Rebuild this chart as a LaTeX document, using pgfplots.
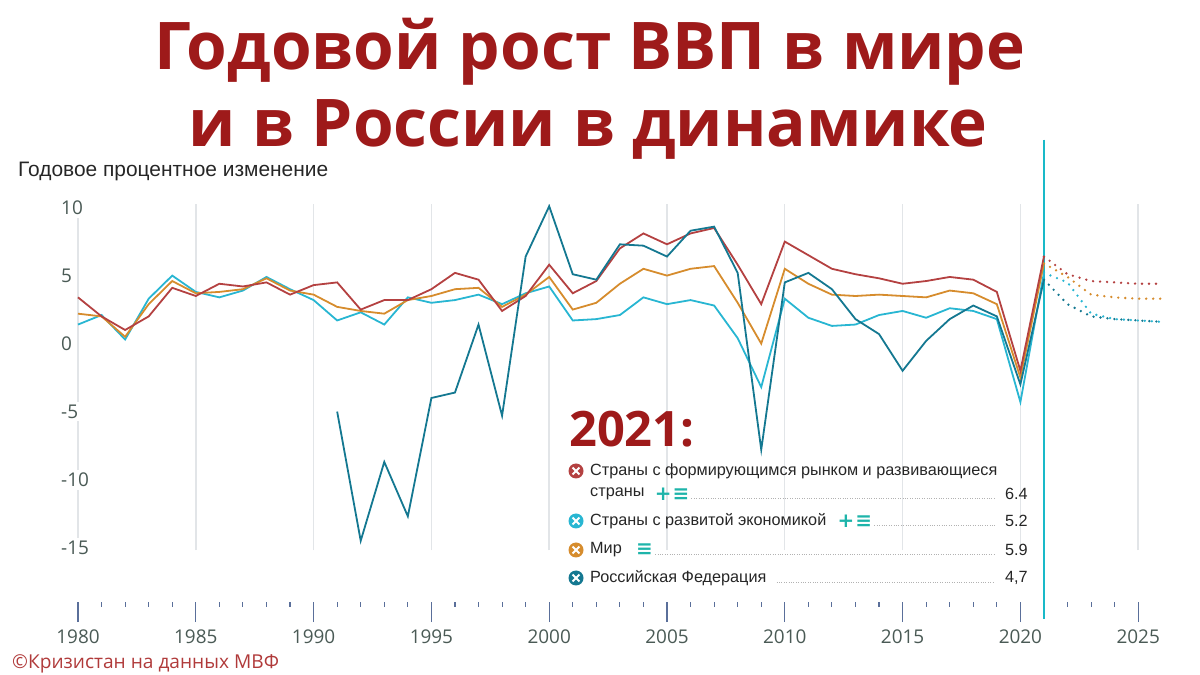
\documentclass[border=0pt]{standalone}
\usepackage{pgfplots}
\pgfplotsset{compat=1.18}
\usepackage{pgfplotstable}
\usepackage{fontspec}
\setmainfont{Liberation Sans}
\newfontfamily\osans{Open Sans}
\newfontfamily\symf{DejaVu Sans}
\definecolor{titlered}{HTML}{9E1A1A}
\definecolor{emred}{HTML}{B44141}
\definecolor{wor}{HTML}{D68C2D}
\definecolor{aec}{HTML}{28B6D2}
\definecolor{rus}{HTML}{147891}
\definecolor{vcyan}{HTML}{19B9C8}
\definecolor{plusteal}{HTML}{1EB4AA}
\definecolor{tickblue}{HTML}{5A6F9A}
\definecolor{labgray}{HTML}{4A5A55}
\definecolor{gridgray}{HTML}{E2E5E8}
\definecolor{wmred}{HTML}{B03A3A}

\pgfplotstableread{
year em ae world
1980 3.4 1.4 2.2
1981 2.0 2.1 2.0
1982 1.0 0.3 0.5
1983 2.0 3.3 2.9
1984 4.1 5.0 4.6
1985 3.5 3.8 3.7
1986 4.4 3.4 3.8
1987 4.2 3.9 4.0
1988 4.5 4.9 4.8
1989 3.6 4.0 3.9
1990 4.3 3.2 3.6
1991 4.5 1.7 2.7
1992 2.5 2.3 2.4
1993 3.2 1.4 2.2
1994 3.2 3.4 3.2
1995 4.0 3.0 3.5
1996 5.2 3.2 4.0
1997 4.7 3.6 4.1
1998 2.4 2.9 2.7
1999 3.5 3.7 3.6
2000 5.8 4.2 4.9
2001 3.7 1.7 2.5
2002 4.6 1.8 3.0
2003 7.0 2.1 4.4
2004 8.1 3.4 5.5
2005 7.3 2.9 5.0
2006 8.1 3.2 5.5
2007 8.5 2.8 5.7
2008 5.8 0.4 3.0
2009 2.9 -3.2 0.0
2010 7.5 3.3 5.5
2011 6.5 1.9 4.4
2012 5.5 1.3 3.6
2013 5.1 1.4 3.5
2014 4.8 2.1 3.6
2015 4.4 2.4 3.5
2016 4.6 1.9 3.4
2017 4.9 2.6 3.9
2018 4.7 2.4 3.7
2019 3.8 1.8 2.9
2020 -2.0 -4.3 -2.5
2021 6.4 5.2 5.9
}\hist

\pgfplotstableread{
year ru
1991 -5.0
1992 -14.5
1993 -8.7
1994 -12.7
1995 -4.0
1996 -3.6
1997 1.4
1998 -5.3
1999 6.4
2000 10.1
2001 5.1
2002 4.7
2003 7.3
2004 7.2
2005 6.4
2006 8.3
2007 8.6
2008 5.2
2009 -7.8
2010 4.5
2011 5.2
2012 4.0
2013 1.8
2014 0.7
2015 -2.0
2016 0.2
2017 1.8
2018 2.8
2019 2.0
2020 -3.0
2021 4.7
}\rush

\pgfplotstableread{
year em ae world ru
2021 6.4 5.2 5.9 4.7
2022 5.1 4.5 4.9 2.9
2023 4.6 2.2 3.6 2.0
2024 4.5 1.8 3.4 1.8
2025 4.4 1.7 3.3 1.7
2026 4.4 1.6 3.3 1.6
}\proj

\newcommand\lmark[3]{\begin{scope}[shift={(#2bp,#3bp)}]\fill[#1] (0,0) circle (7.5bp);\draw[white,line width=1.8bp] (-3.4bp,-3.4bp)--(3.4bp,3.4bp) (-3.4bp,3.4bp)--(3.4bp,-3.4bp);\end{scope}}

\begin{document}
\begin{tikzpicture}
\path[use as bounding box] (0bp,0bp) rectangle (1200bp,675bp);

\begin{axis}[
  at={(78bp,73bp)}, anchor=south west, scale only axis,
  width=1083.8bp, height=462.4bp,
  xmin=1980, xmax=2026, ymin=-19, ymax=15,
  clip=false,
  axis x line=bottom, axis y line=none,
  x axis line style={draw=none,-},
  xtick={1980,1985,...,2025},
  xticklabels={1980,1985,1990,1995,2000,2005,2010,2015,2020,2025},
  minor x tick num=4,
  xtick align=outside,
  major tick length=20bp, minor tick length=5bp,
  x tick style={color=tickblue, line width=1.1bp},
  xticklabel style={font=\osans\fontsize{19}{22}\selectfont, text=labgray, anchor=north, yshift=-4bp},
]
\pgfplotsinvokeforeach{1980,1985,1990,1995,2000,2005,2010,2015,2020,2025}{
  \draw[gridgray, line width=1.4bp] (axis cs:#1,-15.2) -- (axis cs:#1,10.3);
}
\pgfplotsinvokeforeach{-15,-10,-5,0,5,10}{
  \node[anchor=west, xshift=-18bp, fill=white, inner xsep=1bp, inner ysep=3bp, font=\osans\fontsize{19}{22}\selectfont, text=labgray] at (axis cs:1980,#1) {#1};
}
\draw[vcyan, line width=1.5bp] (axis cs:2021,15) -- (axis cs:2021,-20.25);

\addplot[aec, line width=1.8bp] table[x=year,y=ae] {\hist};
\addplot[wor, line width=1.8bp] table[x=year,y=world] {\hist};
\addplot[emred, line width=1.8bp] table[x=year,y=em] {\hist};
\addplot[rus, line width=1.8bp] table[x=year,y=ru] {\rush};

\addplot[aec, line width=2.6bp, line cap=round, dash pattern=on 0bp off 7bp] table[x=year,y=ae] {\proj};
\addplot[wor, line width=2.6bp, line cap=round, dash pattern=on 0bp off 7bp] table[x=year,y=world] {\proj};
\addplot[emred, line width=2.6bp, line cap=round, dash pattern=on 0bp off 7bp] table[x=year,y=em] {\proj};
\addplot[rus, line width=2.6bp, line cap=round, dash pattern=on 0bp off 7bp] table[x=year,y=ru] {\proj};
\end{axis}

\begin{scope}[x=1bp,y=1bp]
\node[anchor=base, font=\osans\bfseries\fontsize{66}{80}\selectfont, text=titlered, inner sep=0] at (590,605) {Годовой рост ВВП в мире};
\node[anchor=base, font=\osans\bfseries\fontsize{66}{80}\selectfont, text=titlered, inner sep=0] at (588,528) {и в России в динамике};

\node[anchor=base west, font=\fontsize{21}{24}\selectfont, text=black!85, inner sep=0] at (18,498) {Годовое процентное изменение};

% legend
\node[anchor=base west, font=\osans\bfseries\fontsize{49}{56}\selectfont, text=titlered, inner sep=0] at (569,229) {2021:};
\end{scope}

\lmark{emred}{576}{204}
\lmark{aec}{576}{154}
\lmark{wor}{576}{125}
\lmark{rus}{576}{97}

\begin{scope}[x=1bp,y=1bp,every node/.style={inner sep=0, font=\fontsize{16.3}{20}\selectfont, text=black!85}]
\node[anchor=west] at (590,204) {Страны с формирующимся рынком и развивающиеся};
\node[anchor=west] (s1) at (590,181) {страны};
\node[anchor=west] (s2) at (590,154) {Страны с развитой экономикой};
\node[anchor=west] (s3) at (590,125) {Мир};
\node[anchor=west] (s4) at (590,97) {Российская Федерация};
\node[anchor=west, font=\symf\bfseries\fontsize{20}{22}\selectfont, text=plusteal] (p1) at ([xshift=10bp]s1.east) {+\kern1pt≡};
\node[anchor=west, font=\symf\bfseries\fontsize{20}{22}\selectfont, text=plusteal] (p2) at ([xshift=11bp]s2.east) {+\kern1pt≡};
\node[anchor=west, font=\symf\bfseries\fontsize{20}{22}\selectfont, text=plusteal] (p3) at ([xshift=14bp]s3.east) {≡};
\node[anchor=west] at (1005,181) {6.4};
\node[anchor=west] at (1005,154) {5.2};
\node[anchor=west] at (1005,125) {5.9};
\node[anchor=west] at (1005,97) {4,7};
\draw[gray!60, line width=0.8bp, dash pattern=on 1bp off 1.4bp] ([xshift=2bp]p1.east |- 0,177) -- (995,177);
\draw[gray!60, line width=0.8bp, dash pattern=on 1bp off 1.4bp] ([xshift=2bp]p2.east |- 0,150) -- (995,150);
\draw[gray!60, line width=0.8bp, dash pattern=on 1bp off 1.4bp] ([xshift=2bp]p3.east |- 0,121) -- (995,121);
\draw[gray!60, line width=0.8bp, dash pattern=on 1bp off 1.4bp] ([xshift=10bp]s4.east |- 0,93) -- (995,93);

\node[anchor=base west, font=\osans\fontsize{19.2}{21}\selectfont, text=wmred, inner sep=0] at (12,7) {©Кризистан на данных МВФ};
\end{scope}
\end{tikzpicture}
\end{document}
